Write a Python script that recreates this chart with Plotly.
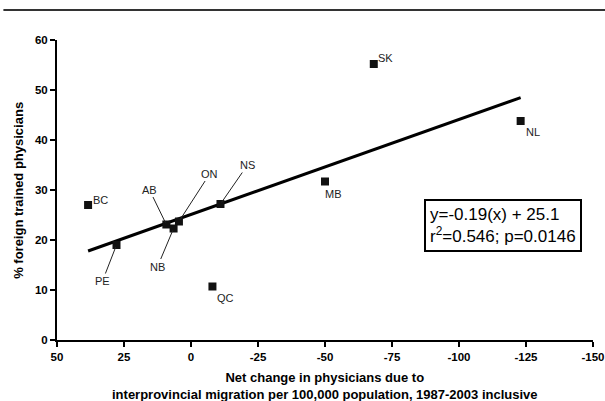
import plotly.graph_objects as go

# Province data: net physician migration (per 100,000) vs % foreign-trained physicians
provinces = ["BC", "PE", "AB", "ON", "NB", "NS", "QC", "MB", "SK", "NL"]
net_migration = [38.4, 27.8, 9.2, 4.5, 6.5, -11.0, -8.0, -50.0, -68.2, -123.0]
pct_foreign = [27.0, 19.0, 23.1, 23.7, 22.3, 27.2, 10.7, 31.7, 55.2, 43.8]

# Linear regression reported for the data
slope = -0.19
intercept = 25.1
r_squared = 0.546
p_value = 0.0146

x_ticks = [50, 25, 0, -25, -50, -75, -100, -125, -150]
y_ticks = [0, 10, 20, 30, 40, 50, 60]

x_title = "Net change in physicians due to<br>interprovincial migration per 100,000 population, 1987-2003 inclusive"
y_title = "% foreign trained physicians"

FONT = "Liberation Sans, Arial, Helvetica, sans-serif"

fig = go.Figure()

# Fitted line over the data range
x_fit = [max(net_migration), min(net_migration)]
y_fit = [slope * x + intercept for x in x_fit]
fig.add_trace(go.Scatter(
    x=x_fit, y=y_fit, mode="lines",
    line=dict(color="black", width=3),
    hoverinfo="skip", showlegend=False,
))

fig.add_trace(go.Scatter(
    x=net_migration, y=pct_foreign, mode="markers",
    marker=dict(symbol="square", size=8, color="#111111"),
    text=provinces, showlegend=False,
))

# Labels: (text offset in px, whether a leader line is drawn)
label_offsets = {
    "BC": (12, 5, False),
    "PE": (-14, 36, True),
    "AB": (-17, -35, True),
    "ON": (31, -48, True),
    "NB": (-16, 38, True),
    "NS": (27, -39, True),
    "QC": (13, -11, False),
    "MB": (8, -12, False),
    "SK": (12, 6, False),
    "NL": (12, -11, False),
}

for name, x, y in zip(provinces, net_migration, pct_foreign):
    dx, dy, leader = label_offsets[name]
    if leader:
        fig.add_annotation(
            x=x, y=y, text=name, showarrow=True, arrowhead=0,
            arrowwidth=1, arrowcolor="#222222", ax=dx, ay=dy,
            standoff=2, font=dict(family=FONT, size=11, color="#222222"),
        )
    else:
        fig.add_annotation(
            x=x, y=y, text=name, showarrow=False,
            xshift=dx, yshift=dy,
            font=dict(family=FONT, size=11, color="#222222"),
        )

# Regression summary box
fig.add_annotation(
    xref="paper", yref="paper", x=0.833, y=0.383,
    xanchor="center", yanchor="middle",
    text=f"y={slope}(x) + {intercept}<br>r<sup>2</sup>={r_squared}; p={p_value}",
    showarrow=False, align="left",
    font=dict(family=FONT, size=17, color="black"),
    bordercolor="black", borderwidth=2, borderpad=4, bgcolor="white",
)

# Axis titles
fig.add_annotation(
    xref="paper", yref="paper", x=0.5, y=-0.152,
    xanchor="center", yanchor="middle",
    text=x_title, showarrow=False, align="center",
    font=dict(family=FONT, size=13, color="black", weight="bold"),
)
fig.add_annotation(
    xref="paper", yref="paper", x=-0.073, y=0.5,
    xanchor="center", yanchor="middle", textangle=-90,
    text=y_title, showarrow=False,
    font=dict(family=FONT, size=13, color="black", weight="bold"),
)

# Rule across the top of the page
fig.add_shape(
    type="line", xref="paper", yref="paper",
    x0=-0.1, x1=1.03, y0=1.1, y1=1.1,
    line=dict(color="#333333", width=2),
)

fig.update_layout(
    width=605, height=401,
    margin=dict(l=57, r=12, t=40, b=61, autoexpand=False),
    paper_bgcolor="white", plot_bgcolor="white",
    font=dict(family=FONT, color="black"),
)

fig.update_xaxes(
    range=[50, -150], autorange=False, automargin=False,
    tickmode="array", tickvals=x_ticks, ticktext=[str(v) for v in x_ticks],
    ticks="outside", ticklen=5, tickwidth=2, tickcolor="black",
    showline=True, linewidth=2, linecolor="black",
    showgrid=False, zeroline=False,
    tickfont=dict(family=FONT, size=11.5, color="black", weight="bold"),
)

fig.update_yaxes(
    range=[0, 60], autorange=False, automargin=False,
    tickmode="array", tickvals=y_ticks, ticktext=[str(v) for v in y_ticks],
    ticks="outside", ticklen=5, tickwidth=2, tickcolor="black",
    showline=True, linewidth=2, linecolor="black",
    showgrid=False, zeroline=False,
    tickfont=dict(family=FONT, size=11.5, color="black", weight="bold"),
)

fig.write_html("out.html")
